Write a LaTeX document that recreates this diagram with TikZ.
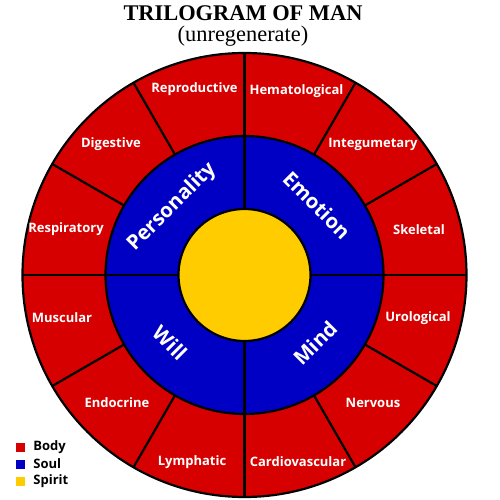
\documentclass[tikz,border=0pt]{standalone}
\usepackage{fontspec}
\usetikzlibrary{calc}
\setmainfont{Liberation Serif}
\newfontfamily\labelfont{Open Sans}
\definecolor{bodyred}{HTML}{D70000}
\definecolor{soulblue}{HTML}{0000C4}
\definecolor{spirityellow}{HTML}{FFCC00}
\tikzset{
  ring/.style={draw=black, line width=1.1pt},
  divider/.style={draw=black, line width=1.1pt},
  organ/.style={text=white, font=\labelfont\bfseries\fontsize{6.5}{7}\selectfont, inner sep=0pt},
  soulpart/.style={text=white, font=\labelfont\bfseries\fontsize{10.2}{11}\selectfont, inner sep=0pt},
  legbox/.style={minimum size=4.5pt, inner sep=0pt},
  legtext/.style={font=\labelfont\bfseries\fontsize{6.5}{7}\selectfont, anchor=west, inner sep=0pt},
}
\begin{document}
\begin{tikzpicture}[x=0.5pt,y=0.5pt]
\useasboundingbox (0,0) rectangle (500,500);
\fill[white] (0,0) rectangle (500,500);
\coordinate (C) at (244.5,225);
% rings
\fill[bodyred] (C) circle[radius=222];
\fill[soulblue] (C) circle[radius=139];
\foreach \a in {0,30,...,330} \draw[divider] ($(C)+(\a:139)$) -- ($(C)+(\a:222)$);
\foreach \a in {0,90,180,270} \draw[divider] ($(C)+(\a:66)$) -- ($(C)+(\a:139)$);
\draw[ring] (C) circle[radius=222];
\draw[ring] (C) circle[radius=139];
\draw[ring, fill=spirityellow] (C) circle[radius=66];
% title
\node[font=\bfseries\fontsize{11.2}{13}\selectfont, inner sep=0pt] (title) at (243,487) {TRILOGRAM OF MAN};
\node[font=\fontsize{11.2}{13}\selectfont, inner sep=0pt] (subtitle) at (243,464) {(unregenerate)};
% organ systems
\node[organ] (reproductive) at (194.5,411) {Reproductive};
\node[organ] (hematological) at (296.5,409) {Hematological};
\node[organ] (integumetary) at (373,356) {Integumetary};
\node[organ] (skeletal) at (419,270) {Skeletal};
\node[organ] (urological) at (418,182) {Urological};
\node[organ] (nervous) at (373,97) {Nervous};
\node[organ] (cardiovascular) at (298,38) {Cardiovascular};
\node[organ] (lymphatic) at (192,38) {Lymphatic};
\node[organ] (endocrine) at (117,97) {Endocrine};
\node[organ] (muscular) at (62,182) {Muscular};
\node[organ] (respiratory) at (66,271) {Respiratory};
\node[organ] (digestive) at (111,356) {Digestive};
% soul
\node[soulpart, rotate=45] (personality) at (172,293) {Personality};
\node[soulpart, rotate=-45] (emotion) at (317,295) {Emotion};
\node[soulpart, rotate=-45] (will) at (170,157) {Will};
\node[soulpart, rotate=45] (mind) at (315,157) {Mind};
% legend
\node[legbox, fill=bodyred] (lb1) at (21,53) {};
\node[legbox, fill=soulblue] (lb2) at (21,36) {};
\node[legbox, fill=spirityellow] (lb3) at (21,19) {};
\node[legtext] (lt1) at (33,53) {Body};
\node[legtext] (lt2) at (33,36) {Soul};
\node[legtext] (lt3) at (33,19) {Spirit};
\end{tikzpicture}
\end{document}
